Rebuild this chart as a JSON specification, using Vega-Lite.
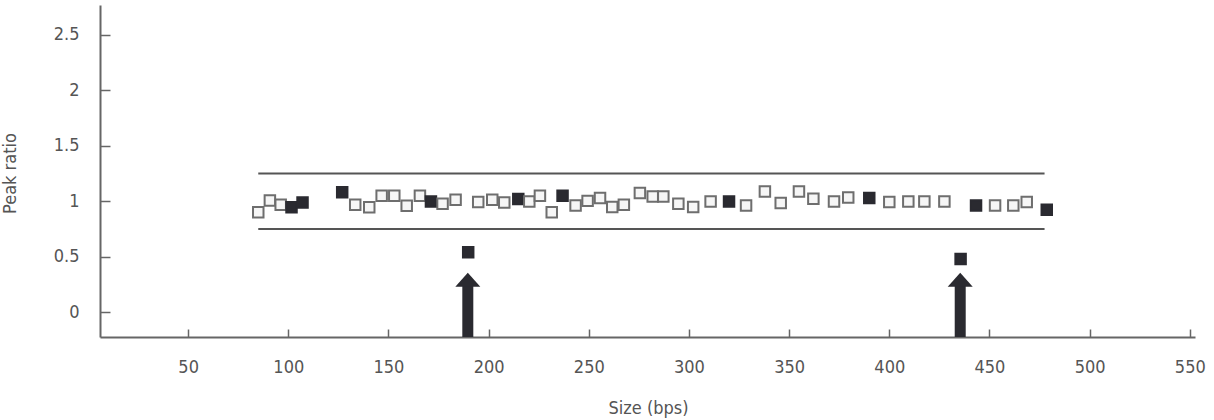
{
  "$schema": "https://vega.github.io/schema/vega-lite/v6.json",
  "width": 1095,
  "height": 332,
  "autosize": {"type": "none"},
  "padding": {"left": 100, "top": 5, "right": 19, "bottom": 83},
  "background": "white",
  "config": {"view": {"stroke": null}, "font": "'DejaVu Sans Condensed', 'Roboto Condensed', 'Liberation Sans Narrow', Roboto, sans-serif"},
  "datasets": {
    "bounds": [
      {"size": 85, "size_end": 477.5, "ratio": 1.25},
      {"size": 85, "size_end": 477.5, "ratio": 0.75}
    ],
    "arrows": [
      {"size": 189.6, "ratio": -0.225, "ratio_end": 0.24, "head": 0.292},
      {"size": 435.4, "ratio": -0.225, "ratio_end": 0.24, "head": 0.292}
    ],
    "points": [
      {"size": 85.0, "ratio": 0.90, "type": "open"},
      {"size": 90.8, "ratio": 1.006, "type": "open"},
      {"size": 96.2, "ratio": 0.967, "type": "open"},
      {"size": 101.6, "ratio": 0.946, "type": "filled"},
      {"size": 107.1, "ratio": 0.988, "type": "filled"},
      {"size": 126.9, "ratio": 1.08, "type": "filled"},
      {"size": 133.4, "ratio": 0.967, "type": "open"},
      {"size": 140.4, "ratio": 0.946, "type": "open"},
      {"size": 146.6, "ratio": 1.05, "type": "open"},
      {"size": 152.9, "ratio": 1.05, "type": "open"},
      {"size": 159.1, "ratio": 0.958, "type": "open"},
      {"size": 165.7, "ratio": 1.05, "type": "open"},
      {"size": 171.2, "ratio": 0.997, "type": "filled"},
      {"size": 177.0, "ratio": 0.977, "type": "open"},
      {"size": 183.5, "ratio": 1.013, "type": "open"},
      {"size": 194.8, "ratio": 0.992, "type": "open"},
      {"size": 201.8, "ratio": 1.013, "type": "open"},
      {"size": 207.8, "ratio": 0.988, "type": "open"},
      {"size": 214.8, "ratio": 1.02, "type": "filled"},
      {"size": 220.3, "ratio": 0.997, "type": "open"},
      {"size": 225.6, "ratio": 1.049, "type": "open"},
      {"size": 231.5, "ratio": 0.90, "type": "open"},
      {"size": 236.9, "ratio": 1.05, "type": "filled"},
      {"size": 243.4, "ratio": 0.961, "type": "open"},
      {"size": 249.4, "ratio": 1.003, "type": "open"},
      {"size": 255.6, "ratio": 1.028, "type": "open"},
      {"size": 261.7, "ratio": 0.947, "type": "open"},
      {"size": 267.5, "ratio": 0.967, "type": "open"},
      {"size": 275.5, "ratio": 1.073, "type": "open"},
      {"size": 281.9, "ratio": 1.042, "type": "open"},
      {"size": 287.2, "ratio": 1.042, "type": "open"},
      {"size": 294.7, "ratio": 0.977, "type": "open"},
      {"size": 302.1, "ratio": 0.947, "type": "open"},
      {"size": 310.8, "ratio": 0.997, "type": "open"},
      {"size": 320.0, "ratio": 0.997, "type": "filled"},
      {"size": 328.5, "ratio": 0.961, "type": "open"},
      {"size": 337.9, "ratio": 1.087, "type": "open"},
      {"size": 345.8, "ratio": 0.983, "type": "open"},
      {"size": 354.9, "ratio": 1.087, "type": "open"},
      {"size": 362.1, "ratio": 1.022, "type": "open"},
      {"size": 372.4, "ratio": 0.997, "type": "open"},
      {"size": 379.5, "ratio": 1.033, "type": "open"},
      {"size": 390.0, "ratio": 1.028, "type": "filled"},
      {"size": 400.0, "ratio": 0.992, "type": "open"},
      {"size": 409.5, "ratio": 0.997, "type": "open"},
      {"size": 417.5, "ratio": 0.997, "type": "open"},
      {"size": 427.5, "ratio": 0.997, "type": "open"},
      {"size": 443.3, "ratio": 0.961, "type": "filled"},
      {"size": 452.8, "ratio": 0.961, "type": "open"},
      {"size": 461.9, "ratio": 0.961, "type": "open"},
      {"size": 468.6, "ratio": 0.992, "type": "open"},
      {"size": 478.6, "ratio": 0.922, "type": "filled"},
      {"size": 189.8, "ratio": 0.539, "type": "filled"},
      {"size": 435.6, "ratio": 0.479, "type": "filled"}
    ]
  },
  "layer": [
    {
      "data": {"name": "bounds"},
      "mark": {"type": "rule", "color": "#555555", "strokeWidth": 2},
      "encoding": {
        "x": {
          "field": "size", "type": "quantitative", "title": "Size (bps)",
          "scale": {"domain": [6, 552.6], "nice": false, "zero": false},
          "axis": {
            "values": [50, 100, 150, 200, 250, 300, 350, 400, 450, 500, 550],
            "grid": false, "tickSize": -8, "tickWidth": 1.5, "tickColor": "#666666",
            "domainColor": "#666666", "domainWidth": 2,
            "labelColor": "#555555", "labelFontSize": 18, "labelPadding": 29,
            "titleColor": "#555555", "titleFontSize": 18, "titleFontWeight": "normal",
            "titleX": 548, "titleY": 71, "titleBaseline": "middle"
          }
        },
        "x2": {"field": "size_end"},
        "y": {
          "field": "ratio", "type": "quantitative", "title": "Peak ratio",
          "scale": {"domain": [-0.225, 2.77], "nice": false, "zero": false},
          "axis": {
            "values": [0, 0.5, 1, 1.5, 2, 2.5], "labelExpr": "'' + datum.value",
            "grid": false, "tickSize": -10, "tickWidth": 1.5, "tickColor": "#666666",
            "domainColor": "#666666", "domainWidth": 2,
            "labelColor": "#555555", "labelFontSize": 18, "labelPadding": 31,
            "titleColor": "#555555", "titleFontSize": 18, "titleFontWeight": "normal",
            "titleX": -90, "titleY": 168, "titleBaseline": "middle"
          }
        }
      }
    },
    {
      "data": {"name": "arrows"},
      "mark": {"type": "rule", "color": "#2a2a30", "strokeWidth": 11, "strokeCap": "butt"},
      "encoding": {
        "x": {"field": "size", "type": "quantitative", "title": "Size (bps)"},
        "y": {"field": "ratio", "type": "quantitative", "title": "Peak ratio"},
        "y2": {"field": "ratio_end"}
      }
    },
    {
      "data": {"name": "arrows"},
      "mark": {"type": "point", "shape": "M-1,0.56L0,-0.56L1,0.56Z", "size": 625, "filled": true, "color": "#2a2a30", "opacity": 1},
      "encoding": {
        "x": {"field": "size", "type": "quantitative", "title": "Size (bps)"},
        "y": {"field": "head", "type": "quantitative", "title": "Peak ratio"}
      }
    },
    {
      "data": {"name": "points"},
      "mark": {"type": "point", "shape": "square", "size": 110, "strokeWidth": 2, "opacity": 1},
      "encoding": {
        "x": {"field": "size", "type": "quantitative", "title": "Size (bps)"},
        "y": {"field": "ratio", "type": "quantitative", "title": "Peak ratio"},
        "fill": {"field": "type", "type": "nominal", "legend": null,
          "scale": {"domain": ["open", "filled"], "range": ["#f6f6f6", "#2a2a30"]}},
        "stroke": {"field": "type", "type": "nominal", "legend": null,
          "scale": {"domain": ["open", "filled"], "range": ["#6e6e6e", "#2a2a30"]}}
      }
    }
  ]
}
